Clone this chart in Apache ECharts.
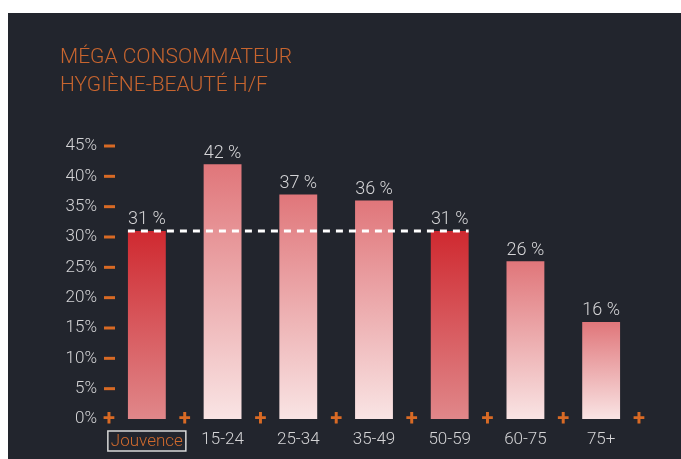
<!DOCTYPE html>
<html>
<head>
<meta charset="utf-8">
<script src="https://cdn.jsdelivr.net/npm/echarts@6/dist/echarts.min.js"></script>
<style>
  html, body { margin: 0; padding: 0; background: #ffffff; }
  #chart { position: absolute; left: 8px; top: 13px; width: 673px; height: 446px; }
</style>
</head>
<body>
<div id="chart"></div>
<script>
// data
const categories = ['Jouvence', '15-24', '25-34', '35-49', '50-59', '60-75', '75+'];
const values = [31, 42, 37, 36, 31, 26, 16];
const highlighted = ['Jouvence', '50-59'];
const yMin = 0, yMax = 45, yStep = 5;
// dashed reference line: Jouvence level, from Jouvence bar to 50-59 bar
const refFrom = 'Jouvence';
const refTo = '50-59';

const ORANGE = '#d86a25';
const TEXT = '#d4d4d6';
const barFrac = 0.5; // bar width as share of category

const chartDom = document.getElementById('chart');
const myChart = echarts.init(chartDom, null, {renderer: 'canvas'});

function grad(top, bottom) {
  return new echarts.graphic.LinearGradient(0, 0, 0, 1, [
    {offset: 0, color: top},
    {offset: 1, color: bottom}
  ]);
}

const barData = values.map((v, i) => ({
  value: v,
  itemStyle: {
    color: highlighted.includes(categories[i])
      ? grad('#cf2930', '#e0878a')
      : grad('#e0767a', '#f9e4e4')
  }
}));

const refValue = values[categories.indexOf(refFrom)];
const refData = [
  [categories.indexOf(refFrom) + 0.5 - barFrac / 2, refValue],
  [categories.indexOf(refTo) + 0.5 + barFrac / 2, refValue]
];

const option = {
  backgroundColor: '#22252d',
  animation: false,
  textStyle: {fontFamily: 'Roboto', fontWeight: 300},
  title: {
    text: 'MÉGA CONSOMMATEUR\nHYGIÈNE-BEAUTÉ H/F',
    left: 52,
    top: 31,
    padding: 0,
    textStyle: {
      fontSize: 21,
      fontWeight: 300,
      lineHeight: 28,
      color: '#c8652f',
      fontFamily: 'Roboto'
    }
  },
  grid: {left: 101, right: 42, top: 133, bottom: 40},
  xAxis: [
    {
      type: 'category',
      data: categories,
      axisLine: {show: false},
      axisTick: {show: false},
      axisLabel: {
        interval: 0,
        margin: 12,
        fontSize: 17,
        fontWeight: 300,
        color: TEXT,
        formatter: (v) => v === 'Jouvence' ? '{h|' + v + '}' : v,
        rich: {
          h: {
            color: '#cf6a2e',
            fontSize: 17,
            fontWeight: 300,
            borderColor: '#d8d8d8',
            borderWidth: 1.5,
            padding: [2, 3, 1, 3]
          }
        }
      }
    },
    {
      type: 'value',
      position: 'bottom',
      min: 0,
      max: categories.length,
      interval: 1,
      axisLine: {show: false},
      axisTick: {show: false},
      splitLine: {show: false},
      axisLabel: {
        showMinLabel: true,
        showMaxLabel: true,
        margin: 0,
        verticalAlign: 'middle',
        formatter: () => '+',
        color: ORANGE,
        fontSize: 22,
        fontWeight: 'bold'
      }
    }
  ],
  yAxis: {
    type: 'value',
    min: yMin,
    max: yMax,
    interval: yStep,
    axisLine: {show: false},
    axisTick: {show: false},
    splitLine: {show: false},
    axisLabel: {
      margin: -6,
      formatter: (v) => v === 0 ? '{v|0%}{e| }' : '{v|' + v + '%}{d| }',
      rich: {
        v: {color: TEXT, fontSize: 17, fontWeight: 300, padding: [0, 7, 0, 0]},
        d: {width: 11, height: 3, backgroundColor: ORANGE},
        e: {width: 11, height: 3}
      }
    }
  },
  series: [
    {
      type: 'bar',
      data: barData,
      barWidth: barFrac * 100 + '%',
      label: {
        show: true,
        position: 'top',
        distance: 2,
        formatter: '{c} %',
        color: TEXT,
        fontSize: 18,
        fontWeight: 300
      }
    },
    {
      type: 'line',
      xAxisIndex: 1,
      data: refData,
      symbol: 'none',
      z: 10,
      lineStyle: {color: '#ffffff', width: 3, type: [7, 6]}
    }
  ]
};
option && myChart.setOption(option);
</script>
</body>
</html>
